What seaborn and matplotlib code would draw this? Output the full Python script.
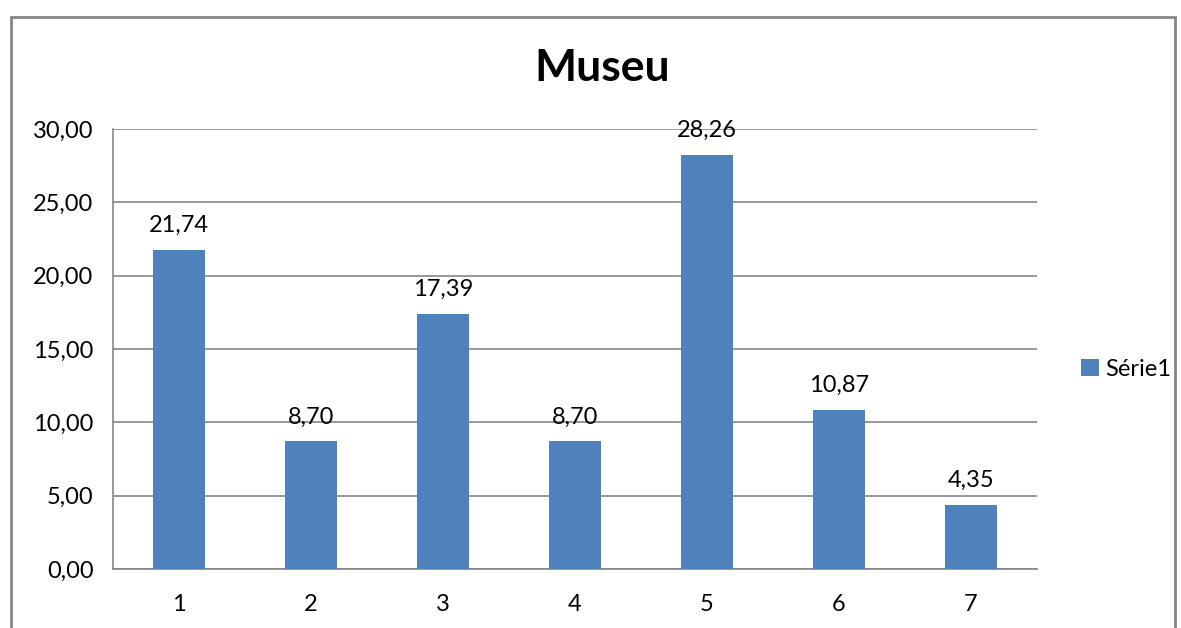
import matplotlib
matplotlib.use("Agg")
import matplotlib.pyplot as plt
import seaborn as sns
import pandas as pd
from matplotlib.patches import Rectangle

# dados do gráfico
categorias = ["1", "2", "3", "4", "5", "6", "7"]
valores = [21.74, 8.70, 17.39, 8.70, 28.26, 10.87, 4.35]
serie = "Série1"
titulo = "Museu"

sns.set_style("white")
plt.rcParams["font.family"] = ["Lato", "DejaVu Sans"]
plt.rcParams["text.color"] = "black"
plt.rcParams["xtick.color"] = "black"
plt.rcParams["ytick.color"] = "black"

df = pd.DataFrame({"cat": categorias, "valor": valores})

fig = plt.figure(figsize=(11.81, 6.28), dpi=100)
ax = fig.add_axes([113 / 1181, 59 / 628, 924 / 1181, 440 / 628])

sns.barplot(data=df, x="cat", y="valor", color="#4F81BD", saturation=1,
            width=0.4, label=serie, ax=ax, zorder=3, linewidth=0)

cinza = "#868686"
ax.set_ylim(0, 30)
ax.set_xlim(-0.5, len(categorias) - 0.5)
ax.set_yticks(range(0, 31, 5))
ax.set_yticklabels([f"{v:.2f}".replace(".", ",") for v in range(0, 31, 5)])
ax.yaxis.grid(True, color=cinza, linewidth=1.2, zorder=0)
ax.set_axisbelow(True)

ax.set_xticks([i - 0.5 for i in range(len(categorias) + 1)], minor=True)
ax.tick_params(axis="x", which="major", length=0, pad=18, labelsize=17,
               labelcolor="black")
ax.tick_params(axis="x", which="minor", length=8, color=cinza, width=1.2)
ax.tick_params(axis="y", length=8, color=cinza, width=1.2, labelsize=17, pad=6,
               labelcolor="black")
ax.set_xlabel("")
ax.set_ylabel("")

for lado in ["top", "right"]:
    ax.spines[lado].set_visible(False)
for lado in ["left", "bottom"]:
    ax.spines[lado].set_color(cinza)
    ax.spines[lado].set_linewidth(1.2)

for cont in ax.containers:
    ax.bar_label(cont, labels=[f"{v:.2f}".replace(".", ",") for v in valores],
                 padding=10, fontsize=17, color="black")

if ax.legend_:
    ax.legend_.remove()
fig.legend(loc="center left", bbox_to_anchor=(1060 / 1181, 1 - 369 / 628),
           frameon=False, fontsize=17, handlelength=0.75, handleheight=0.75,
           handletextpad=0.25, labelcolor="black")

fig.text(602 / 1181, 1 - 68 / 628, titulo, ha="center", va="center",
         fontsize=32, fontweight="bold", color="black")

# moldura do gráfico
fig.patches.append(Rectangle((11 / 1181, -0.1), 1164 / 1181, 1.1 - 17 / 628,
                             transform=fig.transFigure, fill=False,
                             edgecolor=cinza, linewidth=2))

fig.savefig("out.png", dpi=100)
